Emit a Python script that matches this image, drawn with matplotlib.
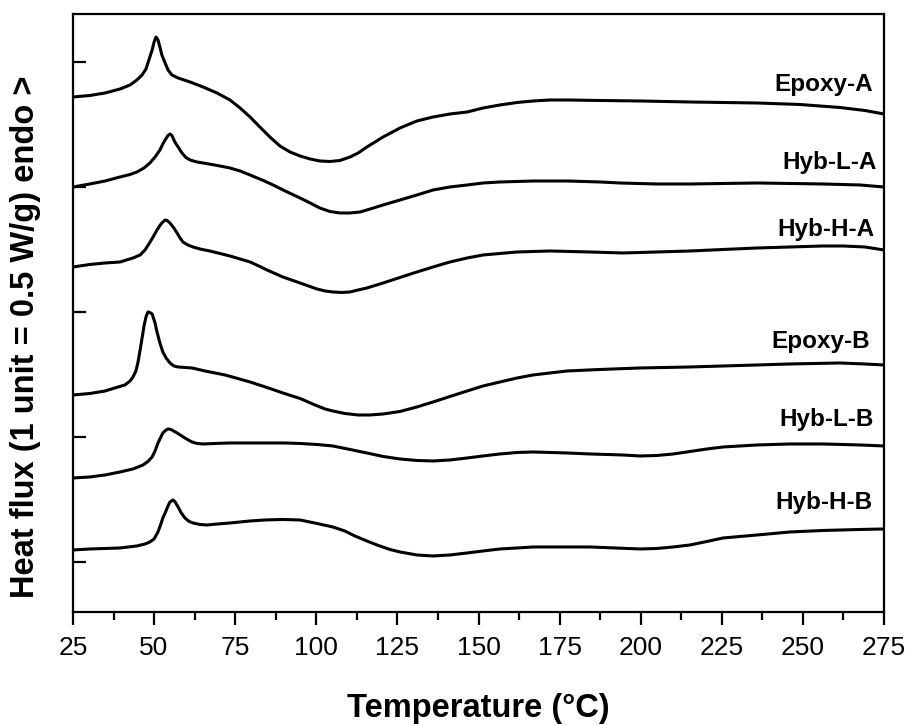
import matplotlib
matplotlib.use("Agg")
import matplotlib.pyplot as plt
from matplotlib import font_manager
from matplotlib.ticker import MultipleLocator

# DSC traces, stacked with vertical offsets (1 unit = 0.5 W/g)
temp_epoxy_a = [25.0, 30.2, 34.9, 39.5, 42.6, 44.7, 46.3, 47.5, 48.4, 49.4, 50.0, 50.6, 51.2,
                51.8, 52.4, 53.4, 54.3, 55.5, 57.4, 61.1, 65.1, 69.4, 73.4, 76.5, 79.6, 82.6,
                85.7, 88.8, 91.9, 95.0, 98.1, 101.1, 104.2, 107.3, 110.4, 112.9, 115.6, 120.6,
                125.8, 131.0, 136.0, 141.2, 146.5, 151.4, 156.6, 161.9, 166.8, 172.0, 177.3,
                187.5, 199.8, 215.2, 235.9, 249.1, 261.4, 269.1, 275.0]
flux_epoxy_a = [3.72, 3.732, 3.752, 3.784, 3.816, 3.856, 3.896, 3.944, 4.016, 4.096, 4.16, 4.2, 4.176,
                4.12, 4.056, 3.992, 3.936, 3.896, 3.872, 3.84, 3.8, 3.752, 3.696, 3.632, 3.56, 3.48,
                3.4, 3.328, 3.28, 3.248, 3.224, 3.208, 3.204, 3.212, 3.24, 3.272, 3.32, 3.4,
                3.472, 3.528, 3.56, 3.584, 3.6, 3.632, 3.656, 3.676, 3.688, 3.696, 3.696,
                3.692, 3.688, 3.68, 3.672, 3.66, 3.636, 3.612, 3.584]

temp_hyb_l_a = [25.0, 30.2, 34.9, 39.5, 42.6, 44.7, 46.9, 48.7, 50.3, 51.8, 52.7, 53.4, 54.3,
                54.9, 55.5, 56.4, 57.4, 58.6, 59.8, 61.1, 63.2, 65.1, 67.8, 70.3, 73.4, 76.5,
                79.6, 83.3, 86.7, 90.4, 95.0, 98.1, 101.1, 104.2, 107.3, 110.4, 113.5, 116.6,
                120.6, 125.8, 131.0, 136.0, 141.2, 146.5, 151.4, 156.6, 166.8, 177.3, 187.5,
                193.6, 205.0, 215.2, 225.4, 235.9, 246.0, 256.2, 267.6, 275.0]
flux_hyb_l_a = [3.0, 3.024, 3.048, 3.08, 3.1, 3.12, 3.152, 3.192, 3.24, 3.296, 3.344, 3.376, 3.412,
                3.424, 3.412, 3.36, 3.32, 3.272, 3.236, 3.216, 3.2, 3.192, 3.18, 3.168, 3.152, 3.128,
                3.096, 3.056, 3.016, 2.968, 2.912, 2.872, 2.832, 2.804, 2.792, 2.792, 2.8, 2.824,
                2.856, 2.896, 2.936, 2.976, 3.0, 3.016, 3.032, 3.04, 3.048, 3.048, 3.04,
                3.032, 3.024, 3.024, 3.028, 3.032, 3.028, 3.024, 3.016, 3.0]

temp_hyb_h_a = [25.0, 30.2, 34.9, 39.5, 43.5, 45.7, 47.2, 48.4, 49.7, 50.9, 51.8, 52.4, 53.4,
                54.0, 54.9, 56.1, 57.1, 58.0, 58.9, 60.4, 62.0, 64.1, 67.2, 70.3, 73.4, 76.5,
                79.6, 82.6, 84.8, 89.7, 95.0, 100.2, 102.7, 105.1, 107.9, 110.4, 112.9, 115.6,
                120.6, 125.8, 131.0, 136.0, 141.2, 146.5, 151.4, 156.6, 161.9, 172.0, 184.4,
                194.5, 205.0, 215.2, 225.4, 235.9, 246.0, 256.2, 262.4, 269.1, 275.0]
flux_hyb_h_a = [2.36, 2.38, 2.392, 2.4, 2.432, 2.456, 2.496, 2.544, 2.6, 2.656, 2.692, 2.712, 2.736,
                2.732, 2.712, 2.672, 2.632, 2.592, 2.56, 2.536, 2.52, 2.504, 2.488, 2.468, 2.448, 2.424,
                2.4, 2.364, 2.336, 2.28, 2.232, 2.184, 2.168, 2.16, 2.156, 2.16, 2.176, 2.192,
                2.232, 2.276, 2.32, 2.36, 2.4, 2.432, 2.456, 2.468, 2.48, 2.488, 2.48,
                2.472, 2.48, 2.488, 2.5, 2.512, 2.52, 2.528, 2.528, 2.52, 2.496]

temp_epoxy_b = [25.0, 30.2, 34.9, 37.9, 41.0, 42.6, 43.5, 44.4, 45.0, 45.7, 46.3, 46.9, 47.5,
                48.1, 48.7, 49.4, 50.3, 50.9, 51.8, 52.7, 53.7, 54.9, 56.1, 57.4, 59.5, 61.7,
                65.7, 71.9, 79.6, 84.8, 89.7, 95.0, 99.6, 102.7, 105.1, 108.8, 112.9, 116.6,
                120.6, 125.8, 131.0, 136.0, 141.2, 146.5, 151.4, 156.6, 161.9, 166.8, 172.0,
                177.3, 187.5, 199.8, 215.2, 225.4, 235.9, 246.0, 261.4, 269.1, 275.0]
flux_epoxy_b = [1.336, 1.348, 1.368, 1.392, 1.416, 1.448, 1.48, 1.528, 1.592, 1.696, 1.792, 1.888, 1.96,
                2.0, 1.996, 1.984, 1.912, 1.84, 1.752, 1.68, 1.632, 1.592, 1.568, 1.56, 1.556, 1.552,
                1.528, 1.496, 1.44, 1.396, 1.352, 1.308, 1.256, 1.224, 1.208, 1.188, 1.176, 1.176,
                1.184, 1.204, 1.24, 1.28, 1.324, 1.368, 1.408, 1.44, 1.472, 1.496, 1.512,
                1.528, 1.54, 1.552, 1.56, 1.568, 1.576, 1.584, 1.592, 1.584, 1.576]

temp_hyb_l_b = [25.0, 30.2, 34.9, 39.5, 43.5, 46.6, 48.1, 49.4, 50.3, 51.2, 52.1, 52.7, 53.7,
                54.3, 55.2, 57.1, 58.3, 59.5, 60.8, 61.7, 63.2, 65.1, 68.8, 73.4, 79.6, 84.8,
                90.4, 95.0, 100.2, 105.1, 110.4, 115.6, 120.6, 125.8, 131.0, 136.0, 141.2, 146.5,
                151.4, 156.6, 161.9, 166.8, 172.0, 177.3, 184.4, 194.5, 199.8, 205.0, 210.0,
                215.2, 220.4, 225.4, 235.9, 246.0, 256.2, 267.6, 275.0]
flux_hyb_l_b = [0.672, 0.68, 0.696, 0.72, 0.744, 0.776, 0.804, 0.84, 0.888, 0.952, 1.0, 1.032, 1.056,
                1.064, 1.06, 1.032, 1.012, 0.992, 0.972, 0.96, 0.948, 0.944, 0.948, 0.952, 0.952, 0.952,
                0.952, 0.948, 0.94, 0.928, 0.9, 0.872, 0.844, 0.824, 0.812, 0.808, 0.816, 0.832,
                0.848, 0.864, 0.876, 0.88, 0.876, 0.872, 0.864, 0.856, 0.848, 0.852, 0.864,
                0.884, 0.904, 0.92, 0.936, 0.944, 0.944, 0.936, 0.928]

temp_hyb_h_b = [25.0, 30.2, 34.9, 39.5, 44.7, 47.2, 48.7, 50.0, 51.2, 52.1, 52.7, 53.4, 54.3,
                54.9, 55.8, 56.4, 57.4, 58.3, 59.5, 60.8, 62.0, 64.1, 66.3, 69.7, 73.4, 79.6,
                84.2, 89.7, 95.0, 100.2, 105.1, 108.8, 111.9, 115.6, 118.7, 122.7, 125.8, 131.0,
                136.0, 141.2, 146.5, 151.4, 156.6, 161.9, 166.8, 177.3, 184.4, 192.1, 199.8,
                205.0, 210.0, 215.2, 220.4, 225.4, 235.9, 246.0, 256.2, 267.6, 275.0]
flux_hyb_h_b = [0.096, 0.104, 0.108, 0.112, 0.128, 0.144, 0.16, 0.184, 0.24, 0.304, 0.352, 0.392, 0.448,
                0.48, 0.496, 0.484, 0.44, 0.396, 0.352, 0.324, 0.312, 0.3, 0.296, 0.304, 0.312, 0.328,
                0.336, 0.34, 0.336, 0.308, 0.28, 0.248, 0.208, 0.168, 0.136, 0.1, 0.08, 0.056,
                0.048, 0.056, 0.072, 0.088, 0.104, 0.112, 0.12, 0.12, 0.12, 0.112, 0.104,
                0.108, 0.12, 0.136, 0.164, 0.192, 0.216, 0.24, 0.252, 0.26, 0.264]

names = ["Epoxy-A", "Hyb-L-A", "Hyb-H-A", "Epoxy-B", "Hyb-L-B", "Hyb-H-B"]
temps = [temp_epoxy_a, temp_hyb_l_a, temp_hyb_h_a, temp_epoxy_b, temp_hyb_l_b, temp_hyb_h_b]
fluxes = [flux_epoxy_a, flux_hyb_l_a, flux_hyb_h_a, flux_epoxy_b, flux_hyb_l_b, flux_hyb_h_b]

# where each curve name sits (right edge x, centre y)
label_pos = [(271.6, 3.816), (272.8, 3.192), (272.2, 2.656),
             (270.7, 1.76), (271.9, 1.136), (271.3, 0.472)]


def pick_font(candidates):
    for name in candidates:
        try:
            font_manager.findfont(name, fallback_to_default=False)
            return name
        except Exception:
            pass
    return "DejaVu Sans"


bold_font = pick_font(["Liberation Sans", "Arial", "DejaVu Sans"])
tick_font = pick_font(["Liberation Sans Narrow", "Arial Narrow", "Liberation Sans"])

fig = plt.figure(figsize=(9.11, 7.25), dpi=100, facecolor="white")
ax = fig.add_axes([0.0801, 0.1559, 0.8903, 0.8248])

for t, f in zip(temps, fluxes):
    ax.plot(t, f, color="black", lw=2.2, solid_joinstyle="round", solid_capstyle="round")

for name, (x, y) in zip(names, label_pos):
    ax.text(x, y, name, ha="right", va="center", fontsize=17.5, fontweight="bold",
            family=bold_font)

ax.set_xlim(25, 275)
ax.set_ylim(-0.4, 4.384)
ax.xaxis.set_major_locator(MultipleLocator(25))
ax.xaxis.set_minor_locator(MultipleLocator(12.5))
ax.set_yticks([0, 1, 2, 3, 4])
ax.set_yticklabels([])

for sp in ax.spines.values():
    sp.set_linewidth(1.6)

ax.tick_params(axis="x", which="major", direction="out", length=9, width=1.6, pad=8)
ax.tick_params(axis="x", which="minor", direction="out", length=5.5, width=1.6)
ax.tick_params(axis="y", which="major", direction="in", length=9, width=1.6)
for lab in ax.get_xticklabels():
    lab.set_family(tick_font)
    lab.set_fontsize(19)

ax.set_xlabel("Temperature (°C)", fontsize=23.5, fontweight="bold", family=bold_font)
ax.xaxis.label.set_va("center")
ax.xaxis.set_label_coords(0.5, -0.162)
ax.set_ylabel("Heat flux (1 unit = 0.5 W/g) endo >", fontsize=23.5, fontweight="bold",
              family=bold_font)
ax.yaxis.label.set_va("center")
ax.yaxis.set_label_coords(-0.059, 0.46)

fig.savefig("out.png", dpi=100)
